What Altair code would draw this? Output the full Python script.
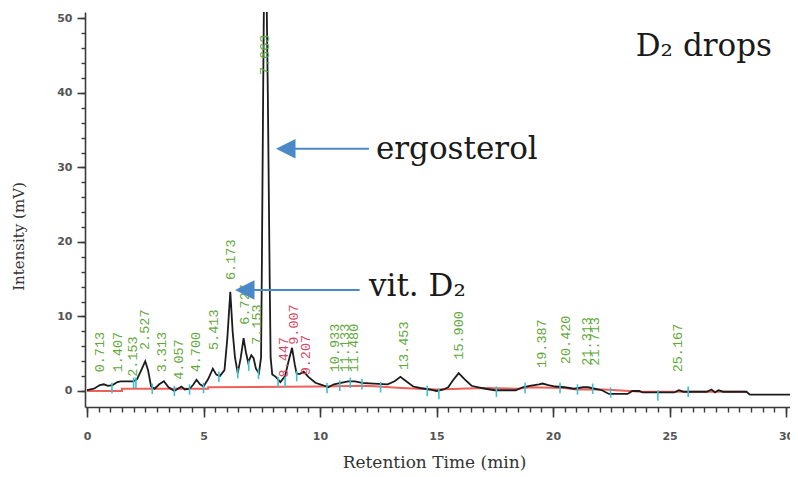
import altair as alt
import pandas as pd

# ---------------- data ----------------
t_min = [0.0, 0.3, 0.55, 0.72, 0.9, 1.1, 1.3, 1.45, 1.8, 2.0, 2.15, 2.3, 2.5, 2.62, 2.75,
         2.9, 3.1, 3.3, 3.5, 3.75, 3.9, 4.05, 4.2, 4.4, 4.55, 4.7, 4.85, 5.0, 5.2, 5.4,
         5.55, 5.7, 5.9, 6.02, 6.15, 6.25, 6.35, 6.47, 6.6, 6.72, 6.82, 6.92, 7.05, 7.15,
         7.25, 7.38, 7.47, 7.5, 7.56, 7.64, 7.76, 7.84, 7.88, 7.95, 8.1, 8.3, 8.5, 8.65,
         8.8, 8.92, 9.0, 9.15, 9.3, 9.5, 9.8, 10.1, 10.35, 10.6, 10.9, 11.2, 11.5, 11.8,
         12.3, 12.9, 13.2, 13.45, 13.7, 14.0, 14.3, 14.7, 15.0, 15.3, 15.5, 15.7, 15.95,
         16.2, 16.5, 16.8, 17.1, 17.5, 18.0, 18.4, 18.7, 19.0, 19.4, 19.55, 19.8, 20.1,
         20.5, 20.9, 21.3, 21.5, 21.8, 22.1, 22.4, 23.2, 23.4, 23.7, 23.85, 25.2, 25.4,
         25.6, 26.6, 26.8, 26.95, 27.1, 27.3, 28.3, 28.45, 30.3]
signal_mv = [0.1, 0.3, 0.8, 0.9, 0.7, 0.8, 1.2, 1.3, 1.3, 1.3, 1.6, 2.6, 4.0, 2.8, 0.6,
             0.3, 0.9, 1.3, 0.5, 0.0, 0.3, 0.6, 0.2, 0.3, 0.8, 1.5, 0.9, 0.6, 1.6, 3.0,
             2.2, 2.0, 2.8, 7.0, 13.3, 8.0, 4.5, 2.4, 4.5, 7.1, 5.2, 3.8, 4.8, 4.4,
             3.0, 2.4, 4.5, 15.0, 40.0, 70.0, 40.0, 15.0, 4.5, 2.2, 1.9, 1.2, 2.0, 4.0,
             5.8, 3.5, 2.3, 2.3, 2.6, 1.9, 1.1, 0.8, 0.5, 0.9, 1.1, 1.3, 1.3, 1.1,
             1.0, 0.9, 1.3, 1.9, 1.3, 0.6, 0.4, 0.2, 0.0, 0.2, 0.5, 1.4, 2.4,
             1.6, 0.7, 0.5, 0.3, 0.1, 0.1, 0.1, 0.5, 0.7, 0.9, 1.0, 0.8, 0.6,
             0.5, 0.3, 0.5, 0.5, 0.3, 0.1, -0.4, -0.4, 0.0, 0.0, -0.2, -0.2, 0.1,
             -0.1, -0.1, 0.2, -0.2, 0.1, -0.1, -0.1, -0.5, -0.5]

base_t = [0.0, 1.5, 1.5, 5.2, 5.2, 10.0, 12.0, 13.5, 15.0, 17.0, 18.5, 19.0, 20.5, 21.0,
          22.2, 23.8, 25.4, 26.2, 26.6, 27.4, 28.3]
base_mv = [0.0, 0.0, 0.3, 0.3, 0.5, 0.6, 0.7, 0.4, 0.2, 0.4, 0.3, 0.5, 0.4, 0.2,
           0.2, -0.1, -0.1, -0.1, -0.1, -0.1, -0.1]

tick_t = [1.07, 2.0, 2.1, 2.8, 3.75, 4.4, 5.0, 5.66, 6.47, 6.94, 7.36, 8.2, 8.5, 9.0,
          10.3, 10.85, 11.3, 11.8, 12.6, 14.6, 15.1, 17.57, 18.8, 20.3, 21.05, 21.7,
          22.47, 24.5, 25.8]
tick_mv = [0.4, 1.1, 1.1, 0.3, 0.0, 0.2, 0.4, 1.9, 2.4, 3.4, 2.3, 1.2, 1.2, 2.0,
           0.4, 0.7, 1.1, 0.9, 0.5, 0.0, -0.4, -0.1, 0.4, 0.4, 0.2, 0.3,
           -0.2, -0.6, -0.1]

peak_text = ["0.713", "1.407", "2.153", "2.527", "3.313", "4.057", "4.700", "5.413",
             "6.173", "6.727", "7.153", "7.663", "8.447", "9.007", "9.207", "10.933",
             "11.133", "11.480", "13.453", "15.900", "19.387", "20.420", "21.313",
             "21.713", "25.167"]
peak_x = [0.55, 1.32, 1.96, 2.51, 3.23, 3.96, 4.68, 5.45, 6.17, 6.77, 7.28, 7.62, 8.45,
          8.9, 9.4, 10.64, 11.06, 11.45, 13.62, 15.96, 19.53, 20.55, 21.45, 21.79, 25.36]
peak_y = [2.5, 2.5, 1.9, 5.5, 2.5, 1.5, 2.5, 5.5, 14.9, 8.9, 6.2, 42.4, 1.8, 6.2, 2.1,
          2.5, 2.5, 2.5, 2.8, 4.2, 3.1, 3.6, 3.4, 3.4, 2.5]
peak_kind = ["auto"] * 12 + ["manual"] * 3 + ["auto"] * 10

arrow_from = [12.1, 11.7]
arrow_to = [8.53, 6.77]
arrow_y = [32.5, 13.55]

note_text = ["ergosterol", "vit. D\u2082", "D\u2082 drops"]
note_x = [12.4, 12.1, 23.55]
note_y = [32.4, 14.0, 46.2]

x_major = [0, 5, 10, 15, 20, 25, 30]
x_minor = [0, 0.5, 1, 1.5, 2, 2.5, 3, 3.5, 4, 4.5, 5, 5.5, 6, 6.5, 7, 7.5, 8, 8.5, 9, 9.5,
           10, 10.5, 11, 11.5, 12, 12.5, 13, 13.5, 14, 14.5, 15, 15.5, 16, 16.5, 17, 17.5,
           18, 18.5, 19, 19.5, 20, 20.5, 21, 21.5, 22, 22.5, 23, 23.5, 24, 24.5, 25, 25.5,
           26, 26.5, 27, 27.5, 28, 28.5, 29, 29.5, 30]
y_major = [0, 10, 20, 30, 40, 50]
y_minor = [0, 2, 4, 6, 8, 10, 12, 14, 16, 18, 20, 22, 24, 26, 28, 30, 32, 34, 36, 38, 40,
           42, 44, 46, 48, 50]

# ---------------- tables ----------------
trace = pd.DataFrame({"t": t_min, "mv": signal_mv})
base = pd.DataFrame({"t": base_t, "mv": base_mv})
ticks = pd.DataFrame({"t": tick_t, "mv": tick_mv})
peaks = pd.DataFrame({"t": peak_x, "mv": peak_y, "label": peak_text, "kind": peak_kind})
arrows = pd.DataFrame({"t": arrow_from, "t2": arrow_to, "mv": arrow_y})
notes = pd.DataFrame({"t": note_x, "mv": note_y, "label": note_text})

xs = alt.Scale(domain=[-0.086, 30.17], nice=False, zero=False)
ys = alt.Scale(domain=[-2.15, 50.87], nice=False, zero=False)

AX = "#3a3a3a"
BLUE = "#4a88c8"

x_axis_major = alt.Axis(values=x_major, orient="bottom", tickSize=10, tickWidth=1.6,
                        tickColor=AX, domainColor=AX, domainWidth=1.6, labelFlush=False,
                        labelPadding=13, labelFont="DejaVu Sans", labelFontWeight="bold",
                        labelFontSize=11, labelColor="#555555", titleFont="DejaVu Serif",
                        titleFontSize=17, titleFontWeight="normal", titleColor="#333333",
                        titlePadding=13, titleX=349, grid=False)
y_axis_major = alt.Axis(values=y_major, orient="left", tickSize=8, tickWidth=1.6,
                        tickColor=AX, domainColor=AX, domainWidth=1.6, labelPadding=5,
                        labelFont="DejaVu Sans", labelFontWeight="bold", labelFontSize=11,
                        labelColor="#555555", titleFont="DejaVu Serif", titleFontSize=15,
                        titleFontWeight="normal", titleColor="#333333", titlePadding=30,
                        titleY=224, grid=False)
x_axis_minor = alt.Axis(values=x_minor, orient="bottom", tickSize=5, tickWidth=1.4,
                        tickColor=AX, labels=False, domain=False, grid=False)
y_axis_minor = alt.Axis(values=y_minor, orient="left", tickSize=4, tickWidth=1.4,
                        tickColor=AX, labels=False, domain=False, grid=False)

red_line = alt.Chart(base).mark_line(color="#f0605a", strokeWidth=2).encode(
    x=alt.X("t:Q", scale=xs, axis=x_axis_minor, title=""),
    y=alt.Y("mv:Q", scale=ys, axis=y_axis_minor, title=""),
)

black_line = alt.Chart(trace).mark_line(color="#1c1c1c", strokeWidth=1.8, clip=True).encode(
    x=alt.X("t:Q", scale=xs, axis=x_axis_major, title="Retention Time (min)"),
    y=alt.Y("mv:Q", scale=ys, axis=y_axis_major, title="Intensity (mV)"),
)

cyan = alt.Chart(ticks).transform_calculate(
    lo="datum.mv - 0.7", hi="datum.mv + 0.7"
).mark_rule(color="#3cbfd0", strokeWidth=1.6).encode(
    x=alt.X("t:Q", scale=xs, axis=None),
    y=alt.Y("lo:Q", scale=ys, axis=None),
    y2="hi:Q",
)

labels = alt.Chart(peaks).mark_text(
    angle=270, align="left", baseline="middle", font="Liberation Mono", fontSize=13.5
).encode(
    x=alt.X("t:Q", scale=xs, axis=None),
    y=alt.Y("mv:Q", scale=ys, axis=None),
    text="label:N",
    color=alt.Color("kind:N", scale=alt.Scale(domain=["auto", "manual"],
                                              range=["#5fa83c", "#d44a64"]), legend=None),
)

arrow_lines = alt.Chart(arrows).mark_rule(color=BLUE, strokeWidth=2).encode(
    x=alt.X("t:Q", scale=xs, axis=None),
    x2="t2:Q",
    y=alt.Y("mv:Q", scale=ys, axis=None),
)

arrow_heads = alt.Chart(arrows).mark_point(
    shape="M -1 0 L 1 -1 L 1 1 Z", filled=True, size=380, color=BLUE, opacity=1
).encode(
    x=alt.X("t2:Q", scale=xs, axis=None),
    y=alt.Y("mv:Q", scale=ys, axis=None),
)

note_marks = alt.Chart(notes).mark_text(
    align="left", baseline="middle", font="DejaVu Serif", fontSize=31, color="#1a1a1a"
).encode(
    x=alt.X("t:Q", scale=xs, axis=None),
    y=alt.Y("mv:Q", scale=ys, axis=None),
    text="label:N",
)

chart = alt.layer(
    red_line, black_line, cyan, labels, arrow_lines, arrow_heads, note_marks
).resolve_axis(x="independent", y="independent").properties(
    width=705, height=395,
    autosize=alt.AutoSizeParams(type="none"),
    padding={"left": 77, "top": 4, "right": 0, "bottom": 64},
    background="white",
).configure_view(stroke=None)

chart.save("out.html", embed_options={"renderer": "svg", "actions": False})
